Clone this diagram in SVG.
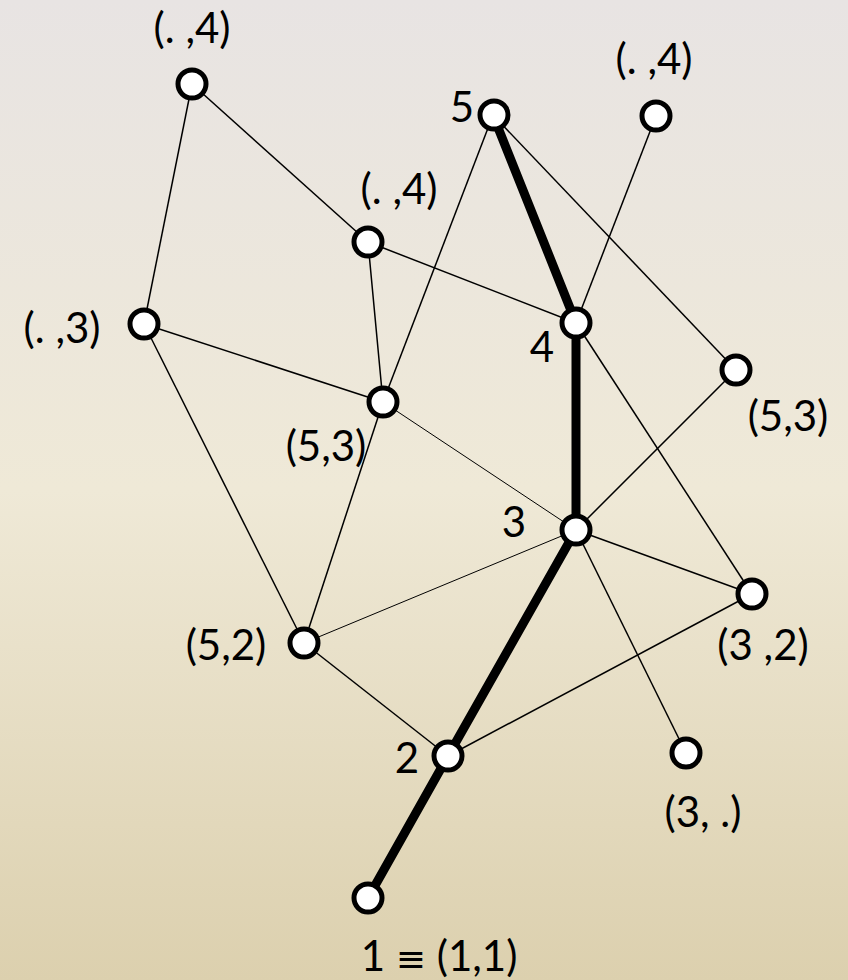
<svg xmlns="http://www.w3.org/2000/svg" width="848" height="980" viewBox="0 0 848 980">
<defs>
<linearGradient id="bg" x1="0" y1="0" x2="0" y2="1">
<stop offset="0" stop-color="#e8e4e3"/>
<stop offset="0.5" stop-color="#efe9d7"/>
<stop offset="1" stop-color="#dcd0ae"/>
</linearGradient>
<style>
.e{stroke:#000;stroke-width:1.5;fill:none}
.f{stroke:#000;stroke-width:1;fill:none}
.t{stroke:#000;stroke-width:9;fill:none;stroke-linecap:round}
.n{fill:#fff;stroke:#000;stroke-width:5}
text{font-family:Lato,"Open Sans","Liberation Sans",sans-serif;font-size:42px;fill:#000}
.eq{font-family:"DejaVu Sans",sans-serif;font-size:36px}
</style>
</defs>
<rect width="848" height="980" fill="url(#bg)"/>
<g id="edges">
<line class="e" x1="192" y1="84" x2="144" y2="324"/>
<line class="e" x1="192" y1="84" x2="368" y2="242"/>
<line class="e" x1="368" y1="242" x2="576" y2="323"/>
<line class="e" x1="368" y1="242" x2="383" y2="402"/>
<line class="e" x1="493" y1="115" x2="383" y2="402"/>
<line class="e" x1="493" y1="115" x2="736" y2="370"/>
<line class="e" x1="656" y1="116" x2="576" y2="323"/>
<line class="e" x1="144" y1="324" x2="383" y2="402"/>
<line class="e" x1="144" y1="324" x2="304" y2="643"/>
<line class="e" x1="576" y1="323" x2="752" y2="594"/>
<line class="e" x1="736" y1="370" x2="576" y2="530"/>
<line class="f" x1="383" y1="402" x2="576" y2="530"/>
<line class="e" x1="383" y1="402" x2="304" y2="643"/>
<line class="f" x1="576" y1="530" x2="304" y2="643"/>
<line class="e" x1="576" y1="530" x2="752" y2="594"/>
<line class="e" x1="576" y1="530" x2="686" y2="753"/>
<line class="e" x1="304" y1="643" x2="448" y2="756"/>
<line class="e" x1="448" y1="756" x2="752" y2="594"/>
<line class="t" x1="493" y1="115" x2="576" y2="323"/>
<line class="t" x1="576" y1="323" x2="576" y2="530"/>
<line class="t" x1="576" y1="530" x2="448" y2="756"/>
<line class="t" x1="448" y1="756" x2="368" y2="898"/>
</g>
<g id="nA"><circle class="n" cx="192" cy="84" r="14"/><text x="192" y="43" text-anchor="middle">(. ,4)</text></g>
<g id="nB"><circle class="n" cx="494" cy="115" r="14"/><text x="474" y="122" text-anchor="end">5</text></g>
<g id="nC"><circle class="n" cx="656" cy="116" r="14"/><text x="654" y="74" text-anchor="middle">(. ,4)</text></g>
<g id="nD"><circle class="n" cx="368" cy="242" r="14"/><text x="399" y="204" text-anchor="middle">(. ,4)</text></g>
<g id="nE"><circle class="n" cx="144" cy="324" r="14"/><text x="62" y="343" text-anchor="middle">(. ,3)</text></g>
<g id="nF"><circle class="n" cx="576" cy="323" r="14"/><text x="542" y="362" text-anchor="middle">4</text></g>
<g id="nG"><circle class="n" cx="736" cy="370" r="14"/><text x="788" y="431" text-anchor="middle">(5,3)</text></g>
<g id="nH"><circle class="n" cx="383" cy="402" r="14"/><text x="326" y="461" text-anchor="middle">(5,3)</text></g>
<g id="nI"><circle class="n" cx="576" cy="530" r="14"/><text x="514" y="537" text-anchor="middle">3</text></g>
<g id="nJ"><circle class="n" cx="752" cy="594" r="14"/><text x="763" y="660" text-anchor="middle">(3 ,2)</text></g>
<g id="nK"><circle class="n" cx="304" cy="643" r="14"/><text x="226" y="660" text-anchor="middle">(5,2)</text></g>
<g id="nL"><circle class="n" cx="448" cy="756" r="14"/><text x="407" y="773" text-anchor="middle">2</text></g>
<g id="nM"><circle class="n" cx="686" cy="753" r="14"/><text x="703" y="827" text-anchor="middle">(3, .)</text></g>
<g id="nN"><circle class="n" cx="368" cy="898" r="14"/><text x="439" y="971" text-anchor="middle">1 <tspan class="eq">≡</tspan> (1,1)</text></g>
</svg>
